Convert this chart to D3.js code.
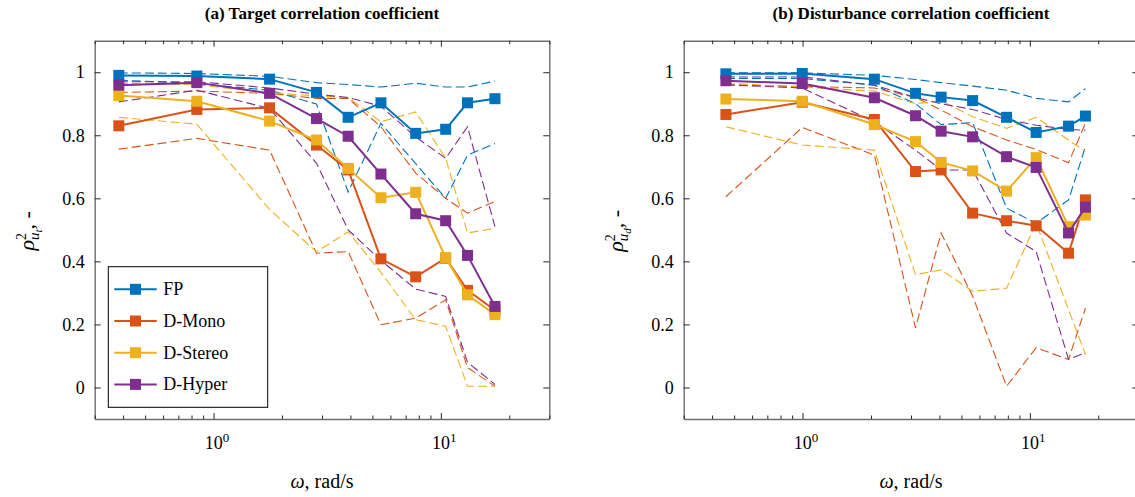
<!DOCTYPE html>
<html>
<head>
<meta charset="utf-8">
<script src="https://cdn.jsdelivr.net/npm/d3@7"></script>
<style>
  body { margin: 0; background: #fff; }
  text { font-family: "Liberation Serif", "DejaVu Serif", serif; fill: #000; }
</style>
</head>
<body>
<svg id="chart" width="1135" height="497"></svg>
<script>
// Frequencies (rad/s) of the multisine components
const omegaTarget = [0.383, 0.844, 1.764, 2.838, 3.91, 5.45, 7.75, 10.5, 13.1, 17.3];
const omegaDist   = [0.46, 0.997, 2.07, 3.14, 4.07, 5.6, 7.9, 10.66, 14.8, 17.56];

const seriesNames  = ["FP", "D-Mono", "D-Stereo", "D-Hyper"];
const seriesColors = ["#0072BD", "#D95319", "#EDB120", "#7E2F8E"];

// (a) target correlation: mean, upper and lower bound per display
const fpTarget       = [0.990, 0.988, 0.978, 0.936, 0.857, 0.903, 0.806, 0.819, 0.903, 0.916];
const monoTarget     = [0.830, 0.882, 0.887, 0.769, 0.690, 0.408, 0.351, 0.410, 0.308, 0.245];
const stereoTarget   = [0.926, 0.908, 0.845, 0.785, 0.695, 0.602, 0.619, 0.412, 0.294, 0.231];
const hyperTarget    = [0.959, 0.967, 0.933, 0.853, 0.797, 0.677, 0.551, 0.529, 0.419, 0.257];

const fpTargetHi     = [0.998, 0.996, 0.987, 0.967, 0.961, 0.953, 0.965, 0.953, 0.953, 0.972];
const fpTargetLo     = [0.975, 0.964, 0.943, 0.899, 0.620, 0.838, 0.710, 0.600, 0.737, 0.774];
const monoTargetHi   = [0.936, 0.940, 0.933, 0.917, 0.917, 0.827, 0.680, 0.600, 0.553, 0.590];
const monoTargetLo   = [0.756, 0.790, 0.753, 0.426, 0.431, 0.199, 0.220, 0.278, 0.063, 0.004];
const stereoTargetHi = [0.965, 0.960, 0.935, 0.925, 0.920, 0.843, 0.874, 0.727, 0.490, 0.505];
const stereoTargetLo = [0.857, 0.835, 0.565, 0.430, 0.494, 0.365, 0.215, 0.194, 0.004, 0.004];
const hyperTargetHi  = [0.970, 0.970, 0.950, 0.930, 0.920, 0.892, 0.795, 0.727, 0.827, 0.510];
const hyperTargetLo  = [0.906, 0.943, 0.885, 0.711, 0.500, 0.403, 0.312, 0.289, 0.080, 0.010];

// (b) disturbance correlation
const fpDist         = [0.995, 0.996, 0.978, 0.933, 0.921, 0.910, 0.857, 0.809, 0.829, 0.861];
const monoDist       = [0.866, 0.905, 0.850, 0.685, 0.690, 0.553, 0.529, 0.513, 0.426, 0.595];
const stereoDist     = [0.915, 0.908, 0.834, 0.780, 0.714, 0.687, 0.623, 0.729, 0.510, 0.547];
const hyperDist      = [0.973, 0.964, 0.919, 0.862, 0.813, 0.795, 0.732, 0.698, 0.490, 0.572];

const fpDistHi       = [0.998, 0.998, 0.990, 0.977, 0.967, 0.956, 0.943, 0.917, 0.906, 0.948];
const fpDistLo       = [0.980, 0.980, 0.959, 0.900, 0.834, 0.840, 0.569, 0.521, 0.595, 0.764];
const monoDistHi     = [0.960, 0.955, 0.950, 0.920, 0.880, 0.827, 0.785, 0.755, 0.713, 0.838];
const monoDistLo     = [0.605, 0.825, 0.737, 0.189, 0.490, 0.290, 0.004, 0.126, 0.089, 0.252];
const stereoDistHi   = [0.965, 0.953, 0.940, 0.900, 0.909, 0.859, 0.822, 0.857, 0.785, 0.748];
const stereoDistLo   = [0.827, 0.769, 0.753, 0.358, 0.373, 0.305, 0.315, 0.521, 0.247, 0.104];
const hyperDistHi    = [0.985, 0.985, 0.959, 0.920, 0.900, 0.882, 0.850, 0.832, 0.819, 0.816];
const hyperDistLo    = [0.960, 0.950, 0.843, 0.753, 0.690, 0.690, 0.490, 0.431, 0.089, 0.110];

const yTickValues  = [0, 0.2, 0.4, 0.6, 0.8, 1];
const yTickLabels  = ["0", "0.2", "0.4", "0.6", "0.8", "1"];
const xMajorTicks  = [1, 10];
const xMinorTicks  = [0.3, 0.4, 0.5, 0.6, 0.7, 0.8, 0.9, 2, 3, 4, 5, 6, 7, 8, 9, 20, 30];

const svg = d3.select("#chart");
const PW = 454.6, PH = 378.3;
const xDomain = [0.3, 30], yDomain = [-0.1, 1.1];

function drawPanel(opts) {
  const g = svg.append("g").attr("transform", `translate(${opts.left},${opts.top})`);
  const x = d3.scaleLog().domain(xDomain).range([0, PW]);
  const y = d3.scaleLinear().domain(yDomain).range([PH, 0]);

  const line = d3.line().x(d => x(d[0])).y(d => y(d[1]));
  const pairs = vals => opts.omega.map((w, i) => [w, vals[i]]);

  // bounds (thin dashed)
  opts.bounds.forEach((pair, k) => {
    pair.forEach(vals => {
      g.append("path")
        .attr("d", line(pairs(vals)))
        .attr("fill", "none")
        .attr("stroke", seriesColors[k])
        .attr("stroke-width", 1.1)
        .attr("stroke-dasharray", "9,4");
    });
  });

  // means with square markers
  opts.means.forEach((vals, k) => {
    const s = g.append("g");
    s.append("path")
      .attr("d", line(pairs(vals)))
      .attr("fill", "none")
      .attr("stroke", seriesColors[k])
      .attr("stroke-width", 2);
    s.selectAll("rect").data(pairs(vals)).join("rect")
      .attr("x", d => x(d[0]) - 5.5)
      .attr("y", d => y(d[1]) - 5.5)
      .attr("width", 11).attr("height", 11)
      .attr("fill", seriesColors[k]);
  });

  // axes: box with inward ticks
  const styleAxis = sel => {
    sel.select(".domain").attr("stroke", "#6e6e6e").attr("stroke-width", 1.4);
    sel.selectAll(".tick line").attr("stroke", "#262626");
    sel.selectAll("text").attr("font-family", "Liberation Serif").attr("font-size", 18).attr("fill", "#000");
  };

  g.append("g")
    .call(d3.axisLeft(y).tickValues(yTickValues).tickFormat((d, i) => yTickLabels[i])
      .tickSizeInner(-6).tickSizeOuter(0).tickPadding(10))
    .call(styleAxis);
  g.append("g").attr("transform", `translate(${PW},0)`)
    .call(d3.axisRight(y).tickValues(yTickValues).tickFormat("")
      .tickSizeInner(-6).tickSizeOuter(0))
    .call(styleAxis);

  // bottom: minor, then major with labels
  g.append("g").attr("transform", `translate(0,${PH})`)
    .call(d3.axisBottom(x).tickValues(xMinorTicks).tickFormat("").tickSizeInner(-3.5).tickSizeOuter(0))
    .call(styleAxis);
  const bottomMajor = g.append("g").attr("transform", `translate(0,${PH})`)
    .call(d3.axisBottom(x).tickValues(xMajorTicks).tickFormat("").tickSizeInner(-6).tickSizeOuter(0))
    .call(styleAxis);
  bottomMajor.select(".domain").remove();
  bottomMajor.selectAll(".tick").each(function(d) {
    const t = d3.select(this).append("text")
      .attr("y", 30).attr("text-anchor", "middle")
      .attr("font-size", 18).attr("dx", 3);
    t.append("tspan").text("10");
    t.append("tspan").attr("dy", -7).attr("font-size", 13).text(Math.round(Math.log10(d)));
  });

  g.append("g")
    .call(d3.axisTop(x).tickValues(xMinorTicks).tickFormat("").tickSizeInner(-3.5).tickSizeOuter(0))
    .call(styleAxis);
  const topMajor = g.append("g")
    .call(d3.axisTop(x).tickValues(xMajorTicks).tickFormat("").tickSizeInner(-6).tickSizeOuter(0))
    .call(styleAxis);
  topMajor.select(".domain").remove();

  // title
  g.append("text")
    .attr("x", PW / 2).attr("y", -22)
    .attr("text-anchor", "middle")
    .attr("font-weight", "bold").attr("font-size", 17)
    .text(opts.title);

  // x label
  const xl = g.append("text")
    .attr("x", PW / 2).attr("y", PH + 69)
    .attr("text-anchor", "middle").attr("font-size", 20);
  xl.append("tspan").attr("font-style", "italic").text("ω");
  xl.append("tspan").text(", rad/s");

  // y label: rho^2 with subscript u_sub
  const yl = g.append("text")
    .attr("transform", `translate(${-61},${PH / 2 + 1}) rotate(-90)`)
    .attr("text-anchor", "middle").attr("font-size", 22);
  yl.append("tspan").attr("font-style", "italic").text("ρ");
  yl.append("tspan").attr("font-size", 14).attr("dy", -8).text("2");
  yl.append("tspan").attr("font-size", 15).attr("font-style", "italic").attr("dx", -7).attr("dy", 13).text("u");
  yl.append("tspan").attr("font-size", 11).attr("font-style", "italic").attr("dy", 3).text(opts.sub);
  yl.append("tspan").attr("dy", -8).text(", -");

  // legend
  if (opts.legend) {
    const lg = g.append("g").attr("transform", "translate(13.6,226)");
    lg.append("rect").attr("width", 159.4).attr("height", 140.6)
      .attr("fill", "#fff").attr("stroke", "#000").attr("stroke-width", 1);
    seriesNames.forEach((name, k) => {
      const yy = 22.6 + k * 31.7;
      lg.append("line").attr("x1", 6).attr("x2", 48.4).attr("y1", yy).attr("y2", yy)
        .attr("stroke", seriesColors[k]).attr("stroke-width", 2);
      lg.append("rect").attr("x", 27.2 - 5.5).attr("y", yy - 5.5).attr("width", 11).attr("height", 11)
        .attr("fill", seriesColors[k]);
      lg.append("text").attr("x", 55).attr("y", yy + 6).attr("font-size", 18).text(name);
    });
  }
}

drawPanel({
  left: 94.7, top: 40.7, omega: omegaTarget,
  means: [fpTarget, monoTarget, stereoTarget, hyperTarget],
  bounds: [[fpTargetHi, fpTargetLo], [monoTargetHi, monoTargetLo],
           [stereoTargetHi, stereoTargetLo], [hyperTargetHi, hyperTargetLo]],
  title: "(a) Target correlation coefficient", sub: "t", legend: true
});
drawPanel({
  left: 683.7, top: 40.7, omega: omegaDist,
  means: [fpDist, monoDist, stereoDist, hyperDist],
  bounds: [[fpDistHi, fpDistLo], [monoDistHi, monoDistLo],
           [stereoDistHi, stereoDistLo], [hyperDistHi, hyperDistLo]],
  title: "(b) Disturbance correlation coefficient", sub: "d", legend: false
});
</script>
</body>
</html>
